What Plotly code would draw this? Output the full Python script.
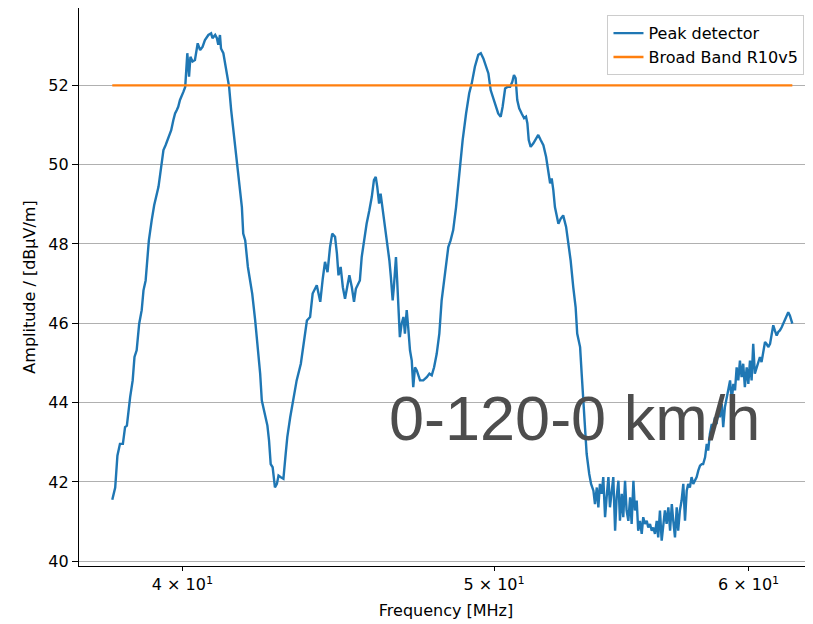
import plotly.graph_objects as go

# Peak detector trace: frequency [MHz] and amplitude [dBµV/m]
freq_mhz = [
    38.04, 38.12, 38.18, 38.25, 38.33, 38.39, 38.44, 38.50, 38.53, 38.60,
    38.65, 38.71, 38.78, 38.85, 38.90, 38.96, 39.05, 39.13, 39.20, 39.32,
    39.36, 39.46, 39.52, 39.60, 39.68, 39.74, 39.79, 39.84, 39.88, 39.93,
    39.96, 40.03, 40.08, 40.10, 40.14, 40.19, 40.23, 40.29, 40.36, 40.44,
    40.51, 40.58, 40.65, 40.75, 40.83, 40.87, 40.95, 41.00, 41.04, 41.09,
    41.12, 41.19, 41.29, 41.36, 41.42, 41.49, 41.56, 41.62, 41.69, 41.74,
    41.78, 41.84, 41.92, 41.99, 42.05, 42.14, 42.22, 42.29, 42.34, 42.42,
    42.46, 42.51, 42.56, 42.61, 42.67, 42.74, 42.80, 42.85, 42.92, 43.00,
    43.07, 43.12, 43.21, 43.31, 43.41, 43.54, 43.62, 43.73, 43.83, 43.91,
    44.04, 44.15, 44.23, 44.30, 44.38, 44.46, 44.53, 44.62, 44.68, 44.73,
    44.80, 44.87, 44.94, 45.02, 45.08, 45.16, 45.23, 45.29, 45.37, 45.42,
    45.48, 45.56, 45.64, 45.73, 45.81, 45.88, 45.94, 45.99, 46.05, 46.10,
    46.16, 46.21, 46.27, 46.32, 46.39, 46.44, 46.50, 46.54, 46.61, 46.65,
    46.70, 46.74, 46.80, 46.86, 46.91, 46.97, 47.02, 47.08, 47.14, 47.19,
    47.25, 47.31, 47.42, 47.53, 47.65, 47.74, 47.82, 47.90, 47.99, 48.08,
    48.16, 48.28, 48.39, 48.47, 48.56, 48.66, 48.77, 48.89, 49.01, 49.12,
    49.21, 49.32, 49.44, 49.53, 49.62, 49.71, 49.80, 49.88, 49.97, 50.07,
    50.15, 50.24, 50.31, 50.40, 50.48, 50.58, 50.66, 50.72, 50.78, 50.84,
    50.91, 51.00, 51.09, 51.16, 51.21, 51.26, 51.33, 51.43, 51.53, 51.61,
    51.70, 51.80, 51.90, 51.98, 52.05, 52.11, 52.17, 52.23, 52.30, 52.36,
    52.45, 52.54, 52.65, 52.73, 52.82, 52.92, 53.01, 53.07, 53.18, 53.24,
    53.30, 53.37, 53.43, 53.53, 53.60, 53.69, 53.75, 53.82, 53.88, 53.94,
    54.01, 54.07, 54.14, 54.20, 54.27, 54.33, 54.40, 54.46, 54.53, 54.59,
    54.66, 54.72, 54.79, 54.85, 54.92, 54.98, 55.05, 55.12, 55.18, 55.25,
    55.31, 55.38, 55.44, 55.51, 55.58, 55.64, 55.71, 55.78, 55.84, 55.91,
    55.98, 56.04, 56.11, 56.18, 56.24, 56.31, 56.38, 56.44, 56.51, 56.58,
    56.65, 56.72, 56.79, 56.85, 56.92, 56.99, 57.05, 57.12, 57.19, 57.26,
    57.33, 57.40, 57.46, 57.53, 57.60, 57.67, 57.74, 57.81, 57.88, 57.95,
    58.02, 58.08, 58.16, 58.23, 58.29, 58.36, 58.44, 58.50, 58.57, 58.64,
    58.71, 58.78, 58.86, 58.92, 58.99, 59.07, 59.13, 59.21, 59.28, 59.35,
    59.42, 59.49, 59.56, 59.63, 59.70, 59.77, 59.84, 59.92, 59.99, 60.06,
    60.13, 60.20, 60.27, 60.35, 60.42, 60.49, 60.56, 60.63, 60.71, 60.78,
    60.85, 60.93, 61.00, 61.07, 61.14, 61.22, 61.29, 61.36, 61.44, 61.51,
    61.58, 61.66, 61.73, 61.80, 61.91,
]
peak_dbuv = [
    41.55, 41.86, 42.66, 42.96, 42.96, 43.38, 43.42, 43.97, 44.14, 44.56,
    45.15, 45.32, 45.99, 46.33, 46.83, 47.08, 48.09, 48.60, 48.98, 49.44,
    49.69, 50.37, 50.49, 50.66, 50.87, 51.12, 51.29, 51.38, 51.46, 51.63,
    51.71, 51.84, 51.96, 52.30, 52.81, 52.22, 52.72, 52.60, 52.64, 53.06,
    52.89, 52.97, 53.14, 53.27, 53.31, 53.19, 53.27, 53.19, 53.02, 53.27,
    52.93, 52.81, 52.30, 51.96, 51.38, 50.87, 50.28, 49.78, 49.36, 48.93,
    48.26, 48.09, 47.42, 47.00, 46.75, 46.07, 45.40, 44.73, 44.05, 43.72,
    43.55, 43.42, 43.04, 42.45, 42.37, 41.86, 41.95, 42.16, 42.12, 42.08,
    42.71, 43.13, 43.63, 44.14, 44.56, 44.98, 45.48, 46.07, 46.16, 46.75,
    46.96, 46.54, 47.13, 47.55, 47.29, 47.92, 48.26, 48.18, 47.76, 47.21,
    47.42, 46.91, 46.62, 47.00, 47.21, 46.91, 46.54, 46.87, 47.00, 47.08,
    47.67, 48.09, 48.51, 48.85, 49.19, 49.61, 49.69, 49.44, 49.02, 49.27,
    48.93, 48.51, 48.26, 48.01, 47.59, 47.17, 46.58, 46.91, 47.67, 47.08,
    46.24, 45.65, 45.99, 46.16, 45.74, 46.33, 45.90, 45.32, 45.06, 44.39,
    44.89, 44.81, 44.56, 44.56, 44.64, 44.73, 44.69, 44.89, 45.23, 45.74,
    46.58, 47.25, 47.92, 48.09, 48.35, 48.93, 49.78, 50.62, 51.29, 51.80,
    52.05, 52.47, 52.77, 52.81, 52.68, 52.51, 52.30, 51.88, 51.67, 51.50,
    51.29, 51.21, 51.46, 51.92, 51.96, 51.96, 52.09, 52.26, 52.18, 51.63,
    51.42, 51.29, 51.17, 51.21, 51.04, 50.62, 50.45, 50.54, 50.66, 50.75,
    50.62, 50.49, 50.20, 49.78, 49.53, 49.65, 49.36, 48.93, 48.68, 48.51,
    48.64, 48.72, 48.43, 48.01, 47.59, 46.91, 46.41, 45.74, 45.40, 44.73,
    44.05, 43.38, 42.71, 42.20, 41.95, 41.78, 41.44, 41.86, 41.36, 41.95,
    41.70, 42.12, 41.11, 41.61, 42.12, 41.36, 41.78, 42.12, 40.77, 41.61,
    42.03, 41.02, 41.70, 41.11, 42.03, 41.28, 41.02, 41.61, 40.94, 42.03,
    41.28, 41.53, 40.77, 41.02, 40.69, 41.11, 40.94, 41.02, 40.85, 40.94,
    40.77, 40.85, 40.69, 41.02, 40.60, 41.28, 40.52, 40.94, 41.28, 40.94,
    41.36, 40.77, 41.44, 41.02, 40.60, 41.36, 40.77, 41.28, 41.53, 41.95,
    41.02, 41.78, 41.95, 41.86, 42.12, 41.95, 42.03, 42.12, 42.29, 42.41,
    42.45, 42.45, 42.62, 42.96, 42.79, 43.21, 43.46, 43.30, 43.63, 43.46,
    43.80, 43.63, 43.97, 43.38, 43.88, 44.14, 44.31, 44.56, 44.05, 44.47,
    44.31, 44.89, 44.56, 45.06, 44.64, 44.98, 44.39, 44.89, 44.47, 45.06,
    44.56, 45.48, 44.73, 44.89, 45.06, 45.15, 45.02, 45.32, 45.53, 45.48,
    45.40, 45.48, 45.74, 45.95, 45.82, 45.69, 45.78, 45.82, 45.90, 45.99,
    46.07, 46.16, 46.28, 46.20, 45.99,
]

# Broad Band R10v5 limit line
limit_freq_mhz = [38.04, 61.91]
limit_dbuv = [52.0, 52.0]

x_tick_vals = [40, 50, 60]
x_tick_text = ["4 \u00d7 10<sup>1</sup>", "5 \u00d7 10<sup>1</sup>", "6 \u00d7 10<sup>1</sup>"]
y_tick_vals = [40, 42, 44, 46, 48, 50, 52]

FONT = "DejaVu Sans"
FS = 16

fig = go.Figure()
fig.add_trace(go.Scatter(
    x=freq_mhz, y=peak_dbuv, mode="lines", name="Peak detector",
    line=dict(color="#1f77b4", width=2.4),
))
fig.add_trace(go.Scatter(
    x=limit_freq_mhz, y=limit_dbuv, mode="lines", name="Broad Band R10v5",
    line=dict(color="#ff7f0e", width=2.4),
))

fig.update_layout(
    width=805, height=616,
    margin=dict(l=71, r=0, t=0, b=58),
    paper_bgcolor="white", plot_bgcolor="white",
    font=dict(family=FONT, size=FS, color="black"),
    showlegend=True,
    legend=dict(
        x=0.72, y=0.987, xanchor="left", yanchor="top",
        bgcolor="rgba(255,255,255,0.8)", bordercolor="#cccccc", borderwidth=1,
        font=dict(family=FONT, size=FS), tracegroupgap=0,
    ),
    annotations=[dict(
        text="0-120-0 km/h", xref="paper", yref="paper",
        x=0.42, y=0.266, xanchor="left", yanchor="middle",
        showarrow=False,
        font=dict(family="Liberation Sans", size=63, color="#4d4d4d"),
    )],
)

fig.update_xaxes(
    type="log", range=[1.56989, 1.79819],
    tickvals=x_tick_vals, ticktext=x_tick_text,
    ticks="outside", ticklen=4, tickwidth=1.3, tickcolor="black",
    showline=True, linecolor="black", linewidth=1.3, mirror=True,
    showgrid=False, zeroline=False,
    title=dict(text="Frequency [MHz]", standoff=11, font=dict(family=FONT, size=FS)),
    tickfont=dict(family=FONT, size=FS),
)
fig.update_yaxes(
    range=[39.88, 53.95], tickvals=y_tick_vals,
    ticks="outside", ticklen=6, tickwidth=1.3, tickcolor="black",
    showline=True, linecolor="black", linewidth=1.3,
    showgrid=True, gridcolor="#b0b0b0", gridwidth=1.3, zeroline=False,
    title=dict(text="Amplitude / [dB\u00b5V/m]", standoff=8, font=dict(family=FONT, size=FS)),
    tickfont=dict(family=FONT, size=FS),
)

fig.write_html("out.html")
